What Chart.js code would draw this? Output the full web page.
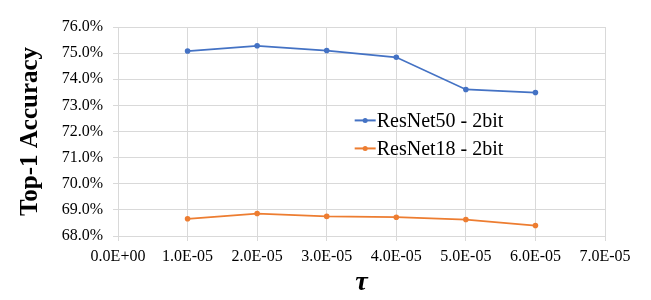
<!DOCTYPE html>
<html>
<head>
<meta charset="utf-8">
<script src="https://cdn.jsdelivr.net/npm/chart.js@4/dist/chart.umd.min.js"></script>
<style>
html,body{margin:0;padding:0;background:#fff;}
#wrap{width:651px;height:300px;position:relative;}
</style>
</head>
<body>
<div id="wrap"><canvas id="c" width="651" height="300"></canvas></div>
<script>
const tauValues = [1e-5, 2e-5, 3e-5, 4e-5, 5e-5, 6e-5];
const resnet50 = [75.08, 75.28, 75.10, 74.84, 73.61, 73.49];
const resnet18 = [68.66, 68.86, 68.75, 68.72, 68.63, 68.40];
const seriesNames = ["ResNet50 - 2bit", "ResNet18 - 2bit"];
const seriesColors = ["#4472C4", "#ED7D31"];
const xTitle = "τ";
const yTitle = "Top-1 Accuracy";

const SERIF = "'Liberation Serif', serif";

function toPoints(xs, ys){ return xs.map((x,i)=>({x:x, y:ys[i]})); }

function fmtSci(v){
  if (v === 0) return "0.0E+00";
  const e = Math.floor(Math.log10(Math.abs(v)) + 1e-9);
  const m = v / Math.pow(10, e);
  const sign = e < 0 ? "-" : "+";
  const ea = Math.abs(e);
  return m.toFixed(1) + "E" + sign + (ea < 10 ? "0" + ea : ea);
}

const legendPlugin = {
  id: 'insideLegend',
  afterDatasetsDraw(chart){
    const ctx = chart.ctx;
    const a = chart.chartArea;
    const x0 = a.left + (a.right - a.left) * 0.486;
    const ys = [a.top + (a.bottom - a.top) * 0.447, a.top + (a.bottom - a.top) * 0.581];
    ctx.save();
    chart.data.datasets.forEach((ds, i) => {
      const y = ys[i];
      ctx.strokeStyle = ds.borderColor;
      ctx.lineWidth = 2;
      ctx.beginPath();
      ctx.moveTo(x0, y);
      ctx.lineTo(x0 + 21, y);
      ctx.stroke();
      ctx.fillStyle = ds.borderColor;
      ctx.beginPath();
      ctx.arc(x0 + 10.5, y, 2.5, 0, Math.PI * 2);
      ctx.fill();
      ctx.fillStyle = "#000";
      ctx.font = "20px " + SERIF;
      ctx.textBaseline = "middle";
      ctx.textAlign = "left";
      ctx.fillText(ds.label, x0 + 22, y + 1);
    });
    ctx.restore();
  }
};

new Chart(document.getElementById('c'), {
  type: 'line',
  data: {
    datasets: [
      { label: seriesNames[0], data: toPoints(tauValues, resnet50), borderColor: seriesColors[0], backgroundColor: seriesColors[0], borderWidth: 1.75, pointRadius: 2.8, pointHoverRadius: 2.8, pointBorderWidth: 0, tension: 0 },
      { label: seriesNames[1], data: toPoints(tauValues, resnet18), borderColor: seriesColors[1], backgroundColor: seriesColors[1], borderWidth: 1.75, pointRadius: 2.8, pointHoverRadius: 2.8, pointBorderWidth: 0, tension: 0 }
    ]
  },
  options: {
    responsive: false,
    animation: false,
    devicePixelRatio: 1,
    layout: { padding: { top: 27, right: 46, bottom: 0, left: 0 } },
    plugins: { legend: { display: false }, tooltip: { enabled: false } },
    scales: {
      x: {
        type: 'linear',
        min: 0, max: 7e-5,
        afterFit(s){ s.height = 64; },
        afterBuildTicks(s){ s.ticks = [0,1,2,3,4,5,6,7].map(k => ({value: k * 1e-5})); },
        ticks: { color: '#000', padding: 6, font: { family: SERIF, size: 16 }, maxRotation: 0, autoSkip: false, callback: v => fmtSci(v) },
        grid: { color: '#d9d9d9', lineWidth: 1, tickLength: 5, drawTicks: true },
        border: { color: '#d9d9d9' },
        title: { display: true, text: xTitle, color: '#000', font: { family: SERIF, size: 28, weight: 'bold', style: 'italic' }, padding: { top: 6, bottom: 0 } }
      },
      y: {
        min: 68, max: 76,
        afterFit(s){ s.width = 118; },
        ticks: { stepSize: 1, color: '#000', padding: 10, font: { family: SERIF, size: 16 }, callback: v => v.toFixed(1) + '%' },
        grid: { color: '#d9d9d9', lineWidth: 1, tickLength: 5 },
        border: { color: '#d9d9d9' },
        title: { display: true, text: yTitle, color: '#000', font: { family: SERIF, size: 25, weight: 'bold' }, padding: { top: 16, bottom: 0 } }
      }
    }
  },
  plugins: [legendPlugin]
});
</script>
</body>
</html>
